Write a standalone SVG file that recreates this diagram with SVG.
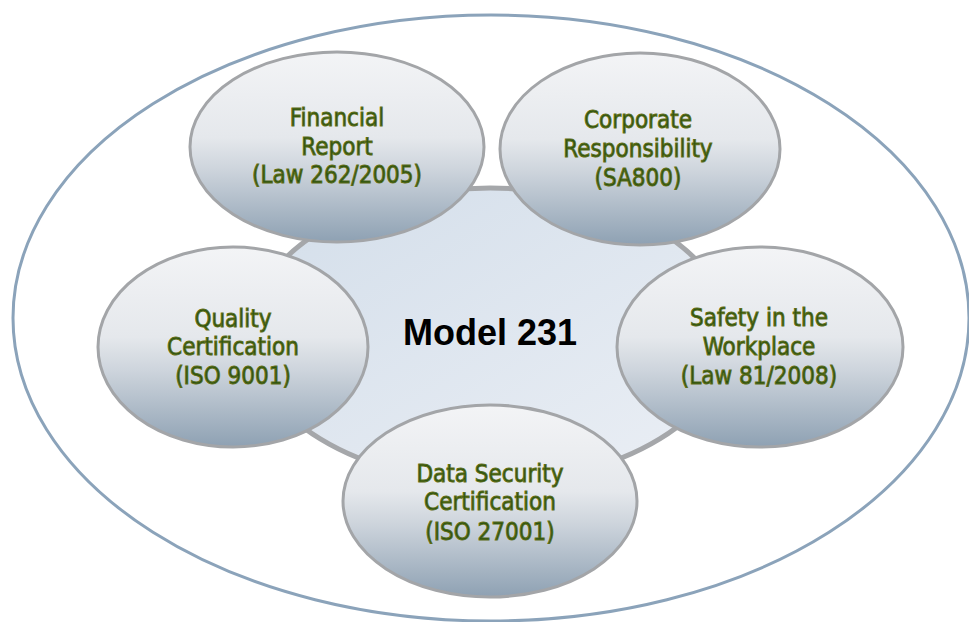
<svg xmlns="http://www.w3.org/2000/svg" width="969" height="622" viewBox="0 0 969 622">
<defs>
<linearGradient id="sat" x1="0" y1="0" x2="0" y2="1">
<stop offset="0" stop-color="#f3f4f6"/>
<stop offset="0.45" stop-color="#e5e8ec"/>
<stop offset="0.62" stop-color="#cdd4dc"/>
<stop offset="1" stop-color="#8ea1b3"/>
</linearGradient>
<linearGradient id="core" x1="0" y1="0" x2="1" y2="1">
<stop offset="0" stop-color="#d3deea"/>
<stop offset="1" stop-color="#ebeff5"/>
</linearGradient>
</defs>
<style>
.sat{fill:url(#sat);stroke:#a3a5a8;stroke-width:3}
.lbl{font-family:"DejaVu Sans Condensed","DejaVu Sans",sans-serif;font-stretch:condensed;font-size:24px;fill:#2a5214;stroke:#5f6e14;stroke-width:0.9;text-anchor:middle}
.core{font-family:"Liberation Sans",Arial,sans-serif;font-weight:bold;font-size:36px;fill:#000;text-anchor:middle}
</style>
<rect width="969" height="622" fill="#ffffff"/>
<g id="outer">
<ellipse cx="491" cy="318" rx="478" ry="303" fill="none" stroke="#8ba3ba" stroke-width="3"/>
</g>
<g id="model231">
<ellipse cx="490" cy="335" rx="240" ry="147" fill="url(#core)" stroke="#a5a7aa" stroke-width="5"/>
<text class="core" x="490" y="345">Model 231</text>
</g>
<g id="financial">
<ellipse class="sat" cx="337" cy="147" rx="147" ry="95"/>
<text class="lbl" x="337" y="126">Financial</text>
<text class="lbl" x="337" y="155">Report</text>
<text class="lbl" x="337" y="183">(Law 262/2005)</text>
</g>
<g id="corporate">
<ellipse class="sat" cx="640" cy="149" rx="140" ry="96"/>
<text class="lbl" x="638" y="128">Corporate</text>
<text class="lbl" x="638" y="157">Responsibility</text>
<text class="lbl" x="638" y="186">(SA800)</text>
</g>
<g id="quality">
<ellipse class="sat" cx="233" cy="347" rx="135" ry="100"/>
<text class="lbl" x="233" y="327">Quality</text>
<text class="lbl" x="233" y="355">Certification</text>
<text class="lbl" x="233" y="384">(ISO 9001)</text>
</g>
<g id="safety">
<ellipse class="sat" cx="760" cy="347" rx="143" ry="100"/>
<text class="lbl" x="759" y="326">Safety in the</text>
<text class="lbl" x="759" y="355">Workplace</text>
<text class="lbl" x="759" y="384">(Law 81/2008)</text>
</g>
<g id="datasecurity">
<ellipse class="sat" cx="490" cy="501" rx="147" ry="96"/>
<text class="lbl" x="490" y="482">Data Security</text>
<text class="lbl" x="490" y="510">Certification</text>
<text class="lbl" x="490" y="540">(ISO 27001)</text>
</g>
<g id="connectors"/>
</svg>
